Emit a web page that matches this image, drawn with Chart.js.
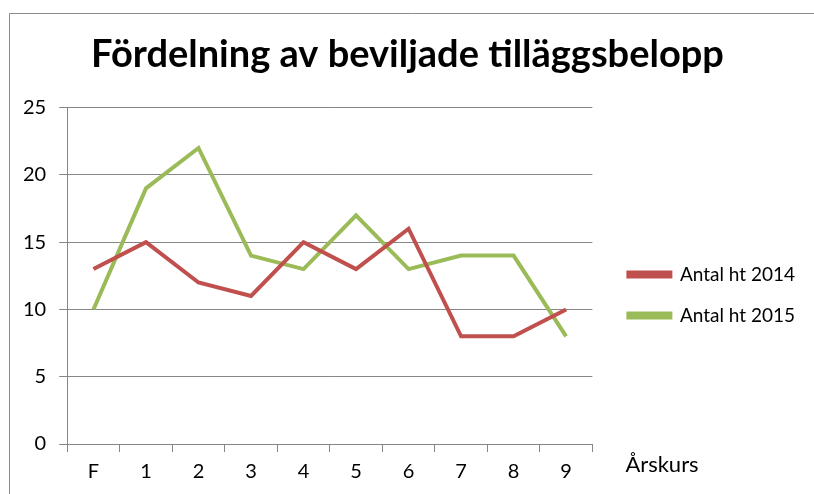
<!DOCTYPE html>
<html>
<head>
<meta charset="utf-8">
<script src="https://cdn.jsdelivr.net/npm/chart.js@4/dist/chart.umd.min.js"></script>
<style>
  html, body { margin: 0; padding: 0; background: #fff; }
  #wrap { width: 814px; height: 494px; position: relative; }
</style>
</head>
<body>
<div id="wrap"><canvas id="chart" width="814" height="494"></canvas></div>
<script>
const categories = ['F', '1', '2', '3', '4', '5', '6', '7', '8', '9'];
const antal2014 = [13, 15, 12, 11, 15, 13, 16, 8, 8, 10];
const antal2015 = [10, 19, 22, 14, 13, 17, 13, 14, 14, 8];
const seriesNames = ['Antal ht 2014', 'Antal ht 2015'];
const seriesColors = ['#C0504D', '#9BBB59'];
const titleText = 'Fördelning av beviljade tilläggsbelopp';
const xAxisTitle = 'Årskurs';

const FONT = 'Lato, "Open Sans", sans-serif';
const gray = '#868686';

// frame lines at top and left of the picture
const framePlugin = {
    id: 'frame',
    beforeDraw(chart) {
        const ctx = chart.ctx;
        ctx.save();
        ctx.strokeStyle = '#8c8c8c';
        ctx.lineWidth = 1;
        ctx.beginPath();
        ctx.moveTo(9.5, chart.height);
        ctx.lineTo(9.5, 13.5);
        ctx.lineTo(chart.width, 13.5);
        ctx.stroke();
        ctx.restore();
    }
};

// "Årskurs" sits to the right of the x axis
const axisTitlePlugin = {
    id: 'axisTitle',
    afterDraw(chart) {
        const ctx = chart.ctx;
        const area = chart.chartArea;
        ctx.save();
        ctx.font = '22px ' + FONT;
        ctx.fillStyle = '#000';
        ctx.textAlign = 'left';
        ctx.textBaseline = 'middle';
        ctx.fillText(xAxisTitle, area.right + 33, area.bottom + 21);
        ctx.restore();
    }
};

new Chart(document.getElementById('chart'), {
    type: 'line',
    data: {
        labels: categories,
        datasets: [
            {
                label: seriesNames[0],
                data: antal2014,
                borderColor: seriesColors[0],
                backgroundColor: seriesColors[0],
                borderWidth: 4,
                pointRadius: 0,
                tension: 0
            },
            {
                label: seriesNames[1],
                data: antal2015,
                borderColor: seriesColors[1],
                backgroundColor: seriesColors[1],
                borderWidth: 4,
                pointRadius: 0,
                tension: 0
            }
        ]
    },
    options: {
        responsive: false,
        animation: false,
        layout: { padding: { left: 10, right: 9, top: 0, bottom: 2 } },
        plugins: {
            title: {
                display: true,
                text: titleText,
                color: '#000',
                font: { family: FONT, size: 38, weight: 'bold' },
                padding: { top: 32, bottom: 30 }
            },
            legend: {
                position: 'right',
                maxWidth: 260,
                title: { display: true, text: '', font: { size: 10 }, padding: 43 },
                labels: {
                    color: '#000',
                    font: { family: FONT, size: 19 },
                    boxWidth: 42,
                    boxHeight: 4,
                    padding: 22
                }
            },
            tooltip: { enabled: false }
        },
        scales: {
            x: {
                offset: true,
                grid: {
                    offset: true,
                    drawOnChartArea: false,
                    color: gray,
                    tickLength: 8
                },
                border: { color: gray },
                ticks: {
                    color: '#000',
                    font: { family: FONT, size: 20 },
                    padding: 8
                }
            },
            y: {
                min: 0,
                max: 25,
                grid: { color: gray, tickLength: 8 },
                border: { color: gray },
                ticks: {
                    stepSize: 5,
                    color: '#000',
                    font: { family: FONT, size: 20 },
                    padding: 13
                }
            },
            // thin empty box that keeps the legend a bit away from the plot
            gap: {
                type: 'linear',
                position: 'right',
                display: true,
                grid: { display: false, drawTicks: false },
                border: { display: false },
                ticks: { display: false },
                afterFit(scale) { scale.width = 14; }
            }
        }
    },
    plugins: [framePlugin, axisTitlePlugin]
});
</script>
</body>
</html>
